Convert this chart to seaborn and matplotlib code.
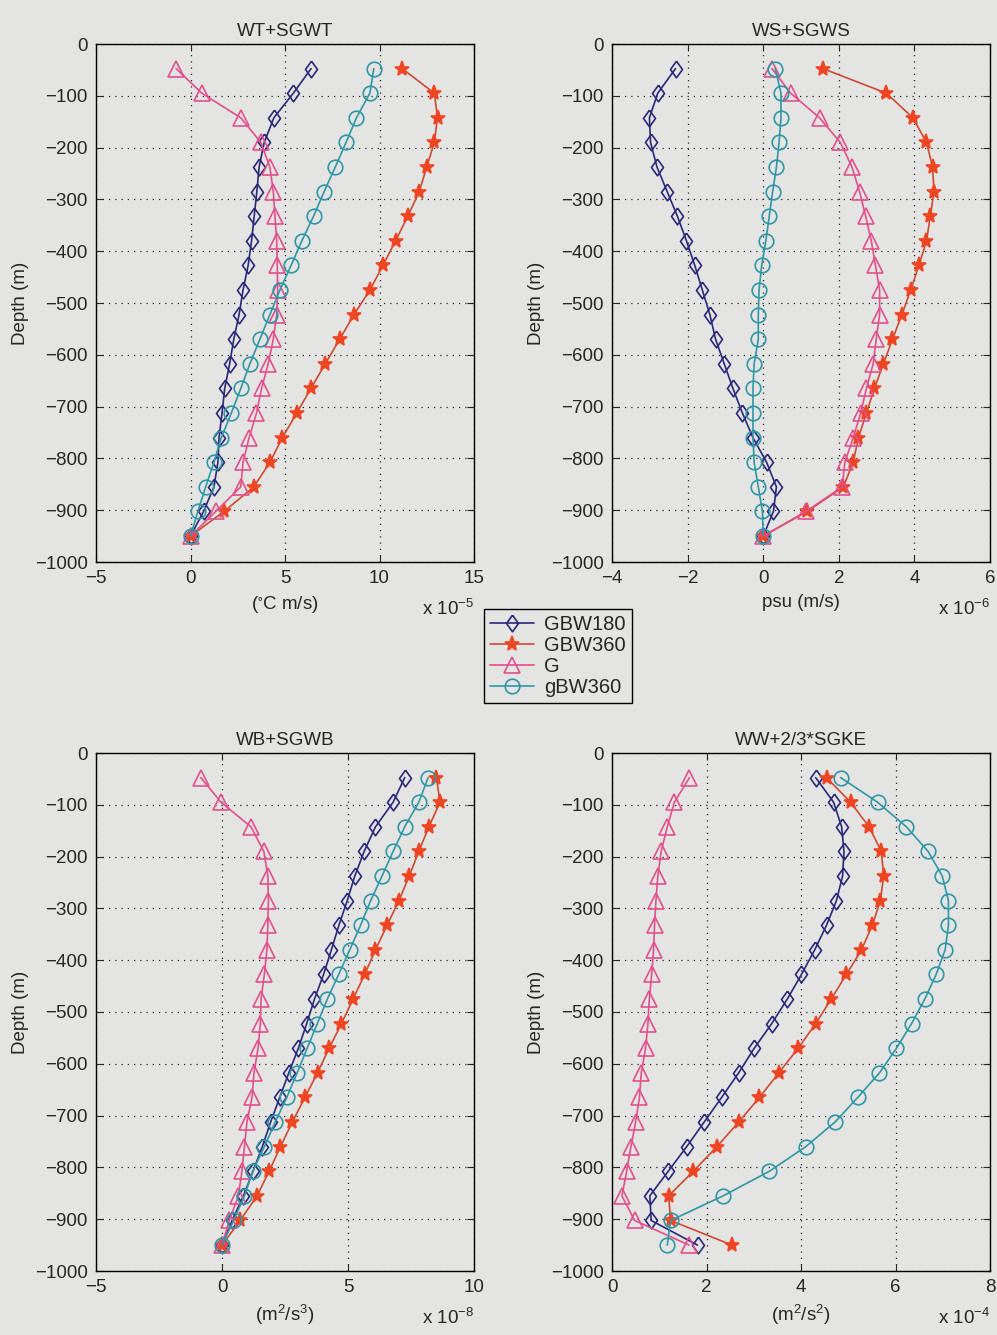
import matplotlib
matplotlib.use("Agg")
import matplotlib.pyplot as plt
import seaborn as sns
import numpy as np

# ---------------- data ----------------
depth = [-47.5, -95, -142.5, -190, -237.5, -285, -332.5, -380, -427.5, -475,
         -522.5, -570, -617.5, -665, -712.5, -760, -807.5, -855, -902.5, -950]

series_names = ["GBW180", "GBW360", "G", "gBW360"]

# WT+SGWT  (x 1e-5)
wt_gbw180 = [6.38, 5.44, 4.41, 3.90, 3.63, 3.51, 3.37, 3.23, 3.05, 2.78,
             2.57, 2.29, 2.07, 1.81, 1.67, 1.51, 1.45, 1.24, 0.69, 0.0]
wt_gbw360 = [11.2, 12.9, 13.07, 12.9, 12.5, 12.1, 11.5, 10.85, 10.18, 9.49,
             8.65, 7.89, 7.13, 6.37, 5.62, 4.86, 4.20, 3.35, 1.77, 0.0]
wt_g = [-0.76, 0.60, 2.66, 3.72, 4.20, 4.38, 4.47, 4.56, 4.59, 4.61,
        4.56, 4.38, 4.11, 3.76, 3.49, 3.10, 2.78, 2.66, 1.33, 0.0]
wt_gbw = [9.70, 9.49, 8.78, 8.23, 7.66, 7.07, 6.51, 5.89, 5.32, 4.73,
          4.20, 3.67, 3.14, 2.66, 2.16, 1.63, 1.24, 0.80, 0.39, 0.0]

# WS+SGWS  (x 1e-6)
ws_gbw180 = [-2.32, -2.79, -3.01, -2.98, -2.81, -2.54, -2.27, -2.03, -1.81, -1.61,
             -1.41, -1.26, -1.03, -0.80, -0.55, -0.27, 0.09, 0.35, 0.27, 0.0]
ws_gbw360 = [1.58, 3.26, 3.96, 4.32, 4.48, 4.52, 4.42, 4.32, 4.12, 3.90,
             3.67, 3.42, 3.18, 2.94, 2.73, 2.52, 2.38, 2.12, 1.16, 0.0]
ws_g = [0.23, 0.73, 1.49, 2.04, 2.35, 2.55, 2.71, 2.86, 2.97, 3.08,
        3.08, 2.99, 2.91, 2.73, 2.58, 2.38, 2.16, 2.09, 1.13, 0.0]
ws_gbw = [0.32, 0.47, 0.47, 0.42, 0.35, 0.25, 0.16, 0.07, -0.04, -0.11,
          -0.13, -0.13, -0.24, -0.27, -0.27, -0.27, -0.24, -0.13, -0.02, 0.0]

# WB+SGWB  (x 1e-8)
wb_gbw180 = [7.25, 6.79, 6.09, 5.64, 5.27, 4.97, 4.64, 4.34, 4.03, 3.67,
             3.36, 3.03, 2.65, 2.29, 1.93, 1.60, 1.23, 0.85, 0.40, 0.0]
wb_gbw360 = [8.51, 8.65, 8.21, 7.81, 7.43, 7.02, 6.55, 6.09, 5.66, 5.20,
             4.74, 4.25, 3.79, 3.29, 2.79, 2.32, 1.87, 1.39, 0.72, 0.0]
wb_g = [-0.84, -0.04, 1.15, 1.66, 1.82, 1.84, 1.82, 1.78, 1.68, 1.55,
        1.52, 1.43, 1.27, 1.19, 0.99, 0.89, 0.79, 0.65, 0.29, 0.0]
wb_gbw = [8.18, 7.81, 7.25, 6.79, 6.35, 5.90, 5.50, 5.07, 4.63, 4.18,
          3.78, 3.38, 2.98, 2.57, 2.11, 1.68, 1.22, 0.89, 0.46, 0.0]

# WW+2/3*SGKE  (x 1e-4)
ww_gbw180 = [4.31, 4.69, 4.86, 4.91, 4.88, 4.75, 4.54, 4.29, 4.01, 3.71,
             3.38, 3.01, 2.68, 2.32, 1.95, 1.58, 1.19, 0.80, 0.83, 1.81]
ww_gbw360 = [4.54, 5.05, 5.44, 5.70, 5.75, 5.68, 5.51, 5.28, 4.96, 4.64,
             4.31, 3.94, 3.53, 3.12, 2.68, 2.22, 1.72, 1.20, 1.24, 2.54]
ww_g = [1.64, 1.32, 1.17, 1.04, 0.97, 0.93, 0.90, 0.88, 0.84, 0.79,
        0.76, 0.71, 0.62, 0.58, 0.50, 0.40, 0.31, 0.21, 0.48, 1.63]
ww_gbw = [4.84, 5.62, 6.23, 6.69, 6.99, 7.12, 7.12, 7.05, 6.86, 6.62,
          6.34, 6.02, 5.66, 5.20, 4.72, 4.10, 3.33, 2.35, 1.24, 1.17]

panel_titles = ["WT+SGWT", "WS+SGWS", "WB+SGWB", "WW+2/3*SGKE"]
panel_xlabels = ["($\\mathregular{^{\\circ}}$C m/s)", "psu (m/s)",
                 "(m$\\mathregular{^2}$/s$\\mathregular{^3}$)",
                 "(m$\\mathregular{^2}$/s$\\mathregular{^2}$)"]
panel_mult = ["x 10$\\mathregular{^{-5}}$", "x 10$\\mathregular{^{-6}}$",
              "x 10$\\mathregular{^{-8}}$", "x 10$\\mathregular{^{-4}}$"]
panel_xticks = [[-5, 0, 5, 10, 15], [-4, -2, 0, 2, 4, 6],
                [-5, 0, 5, 10], [0, 2, 4, 6, 8]]
yticks = [0, -100, -200, -300, -400, -500, -600, -700, -800, -900, -1000]

panel_data = [
    [wt_gbw180, wt_gbw360, wt_g, wt_gbw],
    [ws_gbw180, ws_gbw360, ws_g, ws_gbw],
    [wb_gbw180, wb_gbw360, wb_g, wb_gbw],
    [ww_gbw180, ww_gbw360, ww_g, ww_gbw],
]

# ---------------- style ----------------
sns.set_style("ticks")
plt.rcParams["font.family"] = ["Liberation Sans", "DejaVu Sans"]
plt.rcParams["mathtext.fontset"] = "custom"
plt.rcParams["mathtext.rm"] = "Liberation Sans"
plt.rcParams["axes.unicode_minus"] = True

FS = 13.5
bg = "#e4e4e2"
line_colors = ["#2a2878", "#cc4a34", "#e0508c", "#2f97a6"]
marker_edge = ["#2a2878", "#ee4522", "#e0508c", "#2f97a6"]
marker_face = ["none", "#ee4522", "none", "none"]
diamond = [(0, 1), (0.72, 0), (0, -1), (-0.72, 0), (0, 1)]
markers = [diamond, "*", "^", "o"]
msizes = [12, 11, 11, 10.5]

fig = plt.figure(figsize=(9.97, 13.35), dpi=100, facecolor=bg)
W, H = 997, 1335
boxes = [(96, 44, 474, 562), (612, 44, 990, 562),
         (96, 753, 474, 1271), (612, 753, 990, 1271)]

axes = []
for i, (l, t, r, b) in enumerate(boxes):
    ax = fig.add_axes([l / W, 1 - b / H, (r - l) / W, (b - t) / H])
    ax.set_facecolor(bg)
    for j in range(4):
        sns.lineplot(x=panel_data[i][j], y=depth, ax=ax, sort=False,
                     estimator=None, color=line_colors[j], lw=1.2,
                     marker=markers[j], markersize=msizes[j],
                     markerfacecolor=marker_face[j],
                     markeredgecolor=marker_edge[j], markeredgewidth=1.2,
                     label=series_names[j], legend=False)
    xt = panel_xticks[i]
    ax.set_xlim(xt[0], xt[-1])
    ax.set_ylim(-1000, 0)
    ax.set_xticks(xt)
    ax.set_yticks(yticks)
    ax.grid(True, linestyle=(0, (1, 4)), color="#222222", lw=0.9)
    ax.tick_params(direction="in", top=True, right=True, length=5,
                   labelsize=FS, pad=6)
    for sp in ax.spines.values():
        sp.set_color("black")
        sp.set_linewidth(1.0)
    ax.set_title(panel_titles[i], fontsize=FS, pad=6)
    ax.set_xlabel(panel_xlabels[i], fontsize=FS, labelpad=5)
    ax.set_ylabel("Depth (m)", fontsize=FS, labelpad=4)
    ax.text(1.0, -0.09, panel_mult[i], transform=ax.transAxes,
            ha="right", va="center", fontsize=FS)
    axes.append(ax)

handles = axes[0].get_lines()[:4]
leg = fig.legend(handles, series_names, loc="center",
                 bbox_to_anchor=(558 / W, 1 - 656 / H), fontsize=14.5,
                 frameon=True, fancybox=False, edgecolor="black",
                 facecolor=bg, framealpha=1, handlelength=2.2,
                 borderpad=0.3, labelspacing=0.1, handletextpad=0.5)
leg.get_frame().set_linewidth(1.0)

fig.savefig("out.png", dpi=100, facecolor=bg)
